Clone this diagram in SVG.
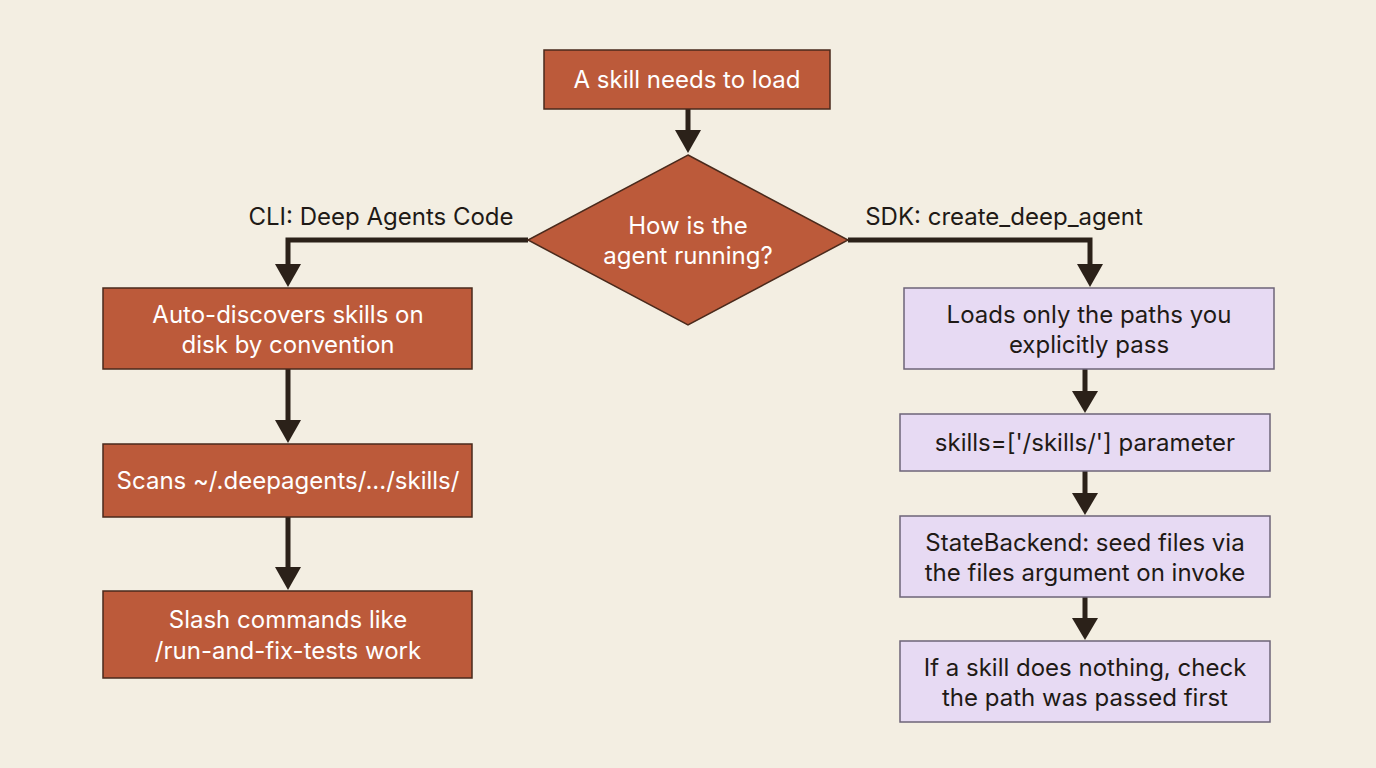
<svg xmlns="http://www.w3.org/2000/svg" width="1376" height="768" viewBox="0 0 1376 768">
<style>
.o{fill:#bc5a3a;stroke:#4a2a1c;stroke-width:1.5}
.p{fill:#e7daf3;stroke:#6e6478;stroke-width:1.5}
.tw{font-family:"Inter","Liberation Sans",sans-serif;font-size:24px;fill:#fff;text-anchor:middle}
.tb{font-family:"Inter","Liberation Sans",sans-serif;font-size:24px;fill:#1f1a16;text-anchor:middle}
.c{fill:none;stroke:#2b2119;stroke-width:5}
</style>
<defs><marker id="a" markerUnits="userSpaceOnUse" markerWidth="26" markerHeight="22" refX="13" refY="20" orient="auto-start-reverse" viewBox="0 0 26 22"><path d="M0,0 L26,0 L13,22 Z" fill="#2b2119" transform="rotate(0)"/></marker></defs>
<rect width="1376" height="768" fill="#f3eee2"/>
<g id="connectors">
<path class="c" d="M688,109 V134"/><path d="M675,130 H701 L688,153 Z" fill="#2b2119"/>
<path class="c" d="M528,240 H288 V266"/><path d="M275,264 H301 L288,287 Z" fill="#2b2119"/>
<path class="c" d="M848,240 H1090 V266"/><path d="M1077,264 H1103 L1090,287 Z" fill="#2b2119"/>
<path class="c" d="M288,369 V422"/><path d="M275,420 H301 L288,443 Z" fill="#2b2119"/>
<path class="c" d="M288,517 V569"/><path d="M275,567 H301 L288,590 Z" fill="#2b2119"/>
<path class="c" d="M1085,369 V393"/><path d="M1072,391 H1098 L1085,413 Z" fill="#2b2119"/>
<path class="c" d="M1085,471 V495"/><path d="M1072,493 H1098 L1085,515 Z" fill="#2b2119"/>
<path class="c" d="M1085,597 V620"/><path d="M1072,618 H1098 L1085,640 Z" fill="#2b2119"/>
<text class="tb" x="381" y="225">CLI: Deep Agents Code</text>
<text class="tb" x="1004" y="225">SDK: create_deep_agent</text>
</g>
<g id="start"><rect class="o" x="544" y="50" width="286" height="59"/><text class="tw" x="687" y="88">A skill needs to load</text></g>
<g id="decision"><path class="o" d="M688,155 L848,240 L688,325 L528,240 Z"/><text class="tw" x="688" y="234">How is the</text><text class="tw" x="688" y="264">agent running?</text></g>
<g id="l1"><rect class="o" x="103" y="288" width="369" height="81"/><text class="tw" x="288" y="323">Auto-discovers skills on</text><text class="tw" x="288" y="353">disk by convention</text></g>
<g id="l2"><rect class="o" x="103" y="444" width="369" height="73"/><text class="tw" x="288" y="489">Scans ~/.deepagents/.../skills/</text></g>
<g id="l3"><rect class="o" x="103" y="591" width="369" height="87"/><text class="tw" x="288" y="628">Slash commands like</text><text class="tw" x="288" y="659">/run-and-fix-tests work</text></g>
<g id="r1"><rect class="p" x="904" y="288" width="370" height="81"/><text class="tb" x="1089" y="323">Loads only the paths you</text><text class="tb" x="1089" y="353">explicitly pass</text></g>
<g id="r2"><rect class="p" x="900" y="414" width="370" height="57"/><text class="tb" x="1085" y="451">skills=['/skills/'] parameter</text></g>
<g id="r3"><rect class="p" x="900" y="516" width="370" height="81"/><text class="tb" x="1085" y="551">StateBackend: seed files via</text><text class="tb" x="1085" y="581">the files argument on invoke</text></g>
<g id="r4"><rect class="p" x="900" y="641" width="370" height="81"/><text class="tb" x="1085" y="676">If a skill does nothing, check</text><text class="tb" x="1085" y="706">the path was passed first</text></g>
</svg>
